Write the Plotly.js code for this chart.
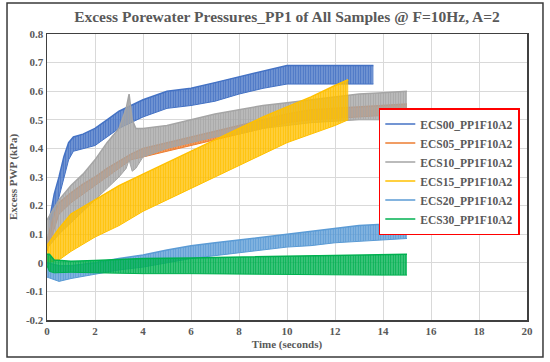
<!DOCTYPE html>
<html>
<head>
<meta charset="utf-8">
<script src="https://cdn.plot.ly/plotly-3.0.1.min.js"></script>
<style>html,body{margin:0;padding:0;background:#fff;}#chart{width:550px;height:362px;}</style>
</head>
<body>
<div id="chart"></div>
<script>
// ---- data (envelopes of the oscillating signals) ----
const seriesNames = ["ECS00_PP1F10A2","ECS05_PP1F10A2","ECS10_PP1F10A2","ECS15_PP1F10A2","ECS20_PP1F10A2","ECS30_PP1F10A2"];

const ecs00Time  = [0.1,0.3,0.5,0.7,0.9,1.1,1.5,2,2.5,3,3.5,4,5,6,7,8,9,10,11,12,13,13.6];
const ecs00Upper = [0.15,0.24,0.30,0.37,0.42,0.44,0.45,0.47,0.50,0.53,0.55,0.57,0.60,0.61,0.63,0.65,0.67,0.69,0.69,0.69,0.69,0.69];
const ecs00Lower = [0.08,0.17,0.23,0.30,0.36,0.39,0.40,0.41,0.44,0.47,0.49,0.51,0.54,0.55,0.565,0.59,0.61,0.625,0.625,0.625,0.625,0.625];

const ecs05Time  = [0,0.3,0.5,1,1.5,2,2.5,3,3.5,4,5,6,7,8,9,10,11,12,13,14,15];
const ecs05Upper = [0.08,0.17,0.21,0.245,0.275,0.30,0.33,0.355,0.38,0.40,0.42,0.44,0.46,0.48,0.50,0.52,0.535,0.54,0.545,0.55,0.555];
const ecs05Lower = [0.04,0.12,0.17,0.21,0.24,0.27,0.30,0.33,0.36,0.37,0.39,0.41,0.43,0.45,0.47,0.49,0.50,0.505,0.51,0.515,0.52];

const ecs10Time  = [0,0.5,1,1.5,2,2.5,3,3.3,3.42,3.55,3.7,4,5,6,7,8,9,10,11,12,13,14,15];
const ecs10Upper = [0.15,0.22,0.27,0.31,0.36,0.42,0.47,0.54,0.59,0.50,0.47,0.47,0.48,0.50,0.52,0.535,0.55,0.56,0.57,0.58,0.59,0.595,0.60];
const ecs10Lower = [0.05,0.10,0.14,0.18,0.22,0.26,0.30,0.33,0.36,0.32,0.33,0.37,0.40,0.42,0.44,0.45,0.47,0.48,0.49,0.495,0.50,0.50,0.50];

const ecs15Time  = [0,0.5,1,2,3,4,5,6,7,8,9,10,11,12,12.55];
const ecs15Upper = [0.06,0.12,0.17,0.22,0.27,0.31,0.35,0.39,0.43,0.47,0.51,0.545,0.58,0.62,0.64];
const ecs15Lower = [0.0,0.01,0.04,0.09,0.13,0.18,0.22,0.26,0.30,0.34,0.38,0.42,0.45,0.48,0.50];

const ecs20Time  = [0,0.5,1,2,3,4,5,6,7,8,9,10,11,12,13,14,15];
const ecs20Upper = [0.0,-0.01,-0.01,0.0,0.015,0.027,0.045,0.06,0.07,0.08,0.09,0.10,0.11,0.12,0.13,0.135,0.145];
const ecs20Lower = [-0.05,-0.065,-0.055,-0.04,-0.025,-0.015,0.0,0.015,0.025,0.035,0.045,0.055,0.06,0.07,0.075,0.08,0.085];

const ecs30Time  = [0,0.1,0.3,1,2,4,6,8,10,12,14,15];
const ecs30Upper = [0.03,0.03,0.01,0.005,0.008,0.015,0.017,0.02,0.022,0.025,0.027,0.03];
const ecs30Lower = [-0.01,-0.03,-0.035,-0.033,-0.035,-0.038,-0.038,-0.04,-0.04,-0.042,-0.043,-0.043];

const yTickVals = [0.8,0.7,0.6,0.5,0.4,0.3,0.2,0.1,0,-0.1,-0.2];
const yTickText = ["0.8","0.7","0.6","0.5","0.4","0.3","0.2","0.1","0","-0.1","-0.2"];
const xTickVals = [0,2,4,6,8,10,12,14,16,18,20];
const xTickText = ["0","2","4","6","8","10","12","14","16","18","20"];

// ---- styles ----
const colors = ["#4472C4","#ED7D31","#A5A5A5","#FFC000","#5B9BD5","#00B050"];
const bgAlpha = ["rgba(68,114,196,0.6)","rgba(237,125,49,0.6)","rgba(165,165,165,0.6)","rgba(255,192,0,0.6)","rgba(91,155,213,0.6)","rgba(0,176,80,0.6)"];

const series = [
  [ecs00Time, ecs00Upper, ecs00Lower],
  [ecs05Time, ecs05Upper, ecs05Lower],
  [ecs10Time, ecs10Upper, ecs10Lower],
  [ecs15Time, ecs15Upper, ecs15Lower],
  [ecs20Time, ecs20Upper, ecs20Lower],
  [ecs30Time, ecs30Upper, ecs30Lower]
];

const bold = s => "<b>" + s + "</b>";

const traces = [];
series.forEach((s, i) => {
  traces.push({
    x: s[0], y: s[1], type: "scatter", mode: "lines",
    name: bold(seriesNames[i]),
    line: {color: colors[i], width: 1.5},
    hoverinfo: "skip"
  });
  traces.push({
    x: s[0], y: s[2], type: "scatter", mode: "lines",
    name: bold(seriesNames[i]), showlegend: false,
    line: {color: colors[i], width: 1},
    fill: "tonexty",
    fillcolor: bgAlpha[i],
    fillpattern: {shape: "|", fgcolor: colors[i], bgcolor: bgAlpha[i], size: 2.5, solidity: 0.6},
    hoverinfo: "skip"
  });
});

const serif = "Liberation Serif";
const txt = "#595959";

const layout = {
  width: 550, height: 362,
  margin: {l: 47, r: 23, t: 34, b: 42},
  paper_bgcolor: "#ffffff", plot_bgcolor: "#ffffff",
  font: {family: serif, color: txt},
  title: {text: bold("Excess Porewater Pressures_PP1 of All Samples @ F=10Hz, A=2"),
          font: {family: serif, size: 15.5, color: txt},
          x: 0.5, xref: "paper", xanchor: "center", y: 0.953, yref: "container", yanchor: "middle"},
  xaxis: {
    range: [0, 20], tickvals: xTickVals, ticktext: xTickText.map(bold), ticks: "",
    showgrid: true, gridcolor: "#d9d9d9", gridwidth: 1, zeroline: false,
    showline: true, mirror: true, linecolor: "#404040", linewidth: 1.5,
    tickfont: {family: serif, size: 11, color: txt},
    title: {text: bold("Time (seconds)"), font: {family: serif, size: 11, color: txt}, standoff: 4}
  },
  yaxis: {
    range: [-0.2, 0.8], tickvals: yTickVals, ticktext: yTickText.map(bold), ticks: "",
    showgrid: true, gridcolor: "#d9d9d9", gridwidth: 1, zeroline: false,
    showline: true, mirror: true, linecolor: "#404040", linewidth: 1.5,
    tickfont: {family: serif, size: 11, color: txt},
    title: {text: bold("Excess PWP (kPa)"), font: {family: serif, size: 11, color: txt}, standoff: 6}
  },
  legend: {
    x: 0.985, xanchor: "right", y: 0.741, yanchor: "top",
    traceorder: "normal",
    bgcolor: "#ffffff", bordercolor: "#FF0000", borderwidth: 1.5,
    font: {family: serif, size: 11.5, color: txt},
    itemwidth: 30, tracegroupgap: 0
  },
  shapes: [{
    type: "rect", xref: "paper", yref: "paper",
    x0: -0.0833, x1: 1.0333, y0: -0.129, y1: 1.108,
    line: {color: "#3a3a3a", width: 1.5}, fillcolor: "rgba(0,0,0,0)", layer: "below"
  }],
  showlegend: true
};

Plotly.newPlot("chart", traces, layout, {staticPlot: true, displayModeBar: false});
</script>
</body>
</html>
